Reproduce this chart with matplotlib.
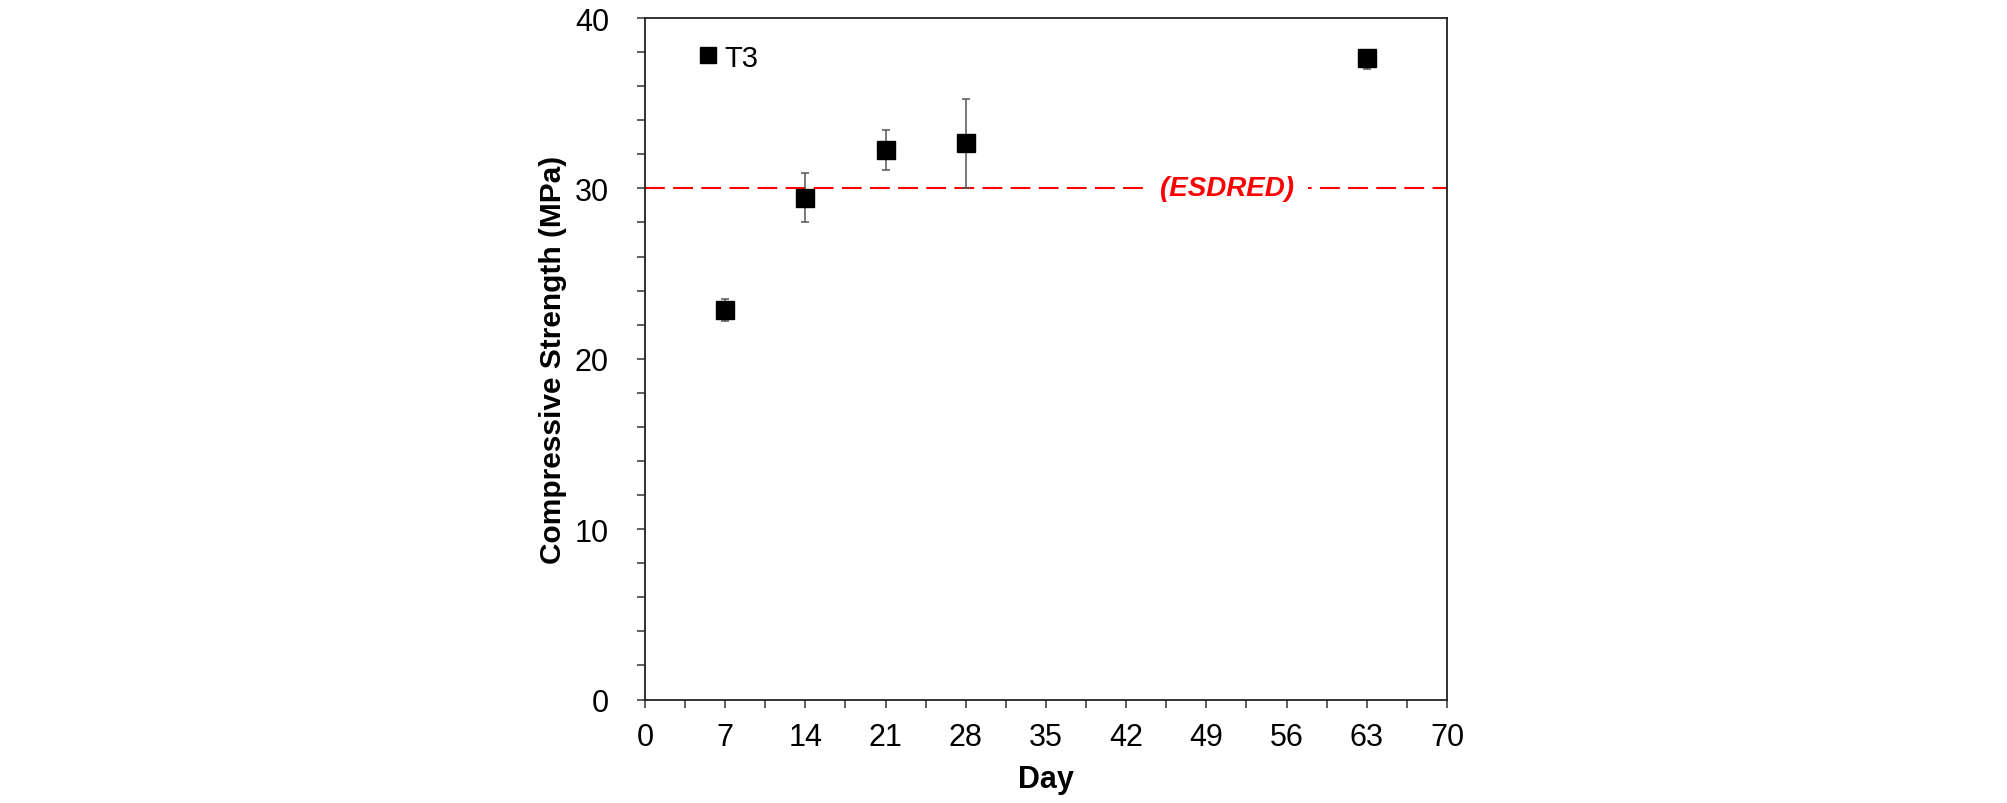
import matplotlib
matplotlib.use("Agg")
import matplotlib.pyplot as plt
from matplotlib.ticker import MultipleLocator

plt.rcParams['font.family'] = ['Liberation Sans', 'DejaVu Sans']

# Veriler
days = [7, 14, 21, 28, 63]
strength = [22.85, 29.45, 32.25, 32.65, 37.65]
err_low = [0.65, 1.45, 1.15, 2.6, 0.65]
err_high = [0.65, 1.45, 1.15, 2.6, 0.45]
esdred_limit = 30
x_ticks = [0, 7, 14, 21, 28, 35, 42, 49, 56, 63, 70]

fig = plt.figure(figsize=(20.08, 8.04), dpi=100)
ax = fig.add_axes([645 / 2008, 1 - 700.5 / 804, 802 / 2008, 681.5 / 804])

# ESDRED sınır çizgisi
ax.axhline(esdred_limit, color='#ff0000', lw=1.5, dashes=(9.5, 4), zorder=1)
ax.text(50.8, esdred_limit, '(ESDRED)', color='#ff0000', fontsize=20,
        fontweight='bold', style='italic', ha='center', va='center',
        bbox=dict(facecolor='white', edgecolor='none', pad=10), zorder=2)

# Basınç dayanımı
ax.errorbar(days, strength, yerr=[err_low, err_high], fmt='none',
            ecolor='#555555', elinewidth=1.1, capsize=3, capthick=1.1, zorder=3)
ax.plot(days, strength, 's', color='black', markersize=13, label='T3', zorder=4)

ax.set_xlim(0, 70)
ax.set_ylim(0, 40)
ax.set_xticks(x_ticks)
ax.xaxis.set_minor_locator(MultipleLocator(3.5))
ax.yaxis.set_major_locator(MultipleLocator(10))
ax.yaxis.set_minor_locator(MultipleLocator(2))
ax.tick_params(which='both', direction='out', length=6, width=1.1,
               color='#333333', labelsize=22, top=False, right=False)
ax.tick_params(axis='x', pad=10)
ax.tick_params(axis='y', pad=20)
for s in ax.spines.values():
    s.set_linewidth(1.3)
    s.set_color('#222222')

ax.set_xlabel('Day', fontsize=22, fontweight='bold', va='center')
ax.set_ylabel('Compressive Strength (MPa)', fontsize=21.5, fontweight='bold', va='center')
ax.xaxis.set_label_coords(0.5, -0.116)
ax.yaxis.set_label_coords(-0.1147, 0.5)

ax.legend(loc='center left', frameon=False, fontsize=21, handletextpad=0.2,
          handlelength=0.7, markerscale=0.85, bbox_to_anchor=(0.066, 0.942),
          borderaxespad=0, borderpad=0)

fig.savefig('out.png', dpi=100)
